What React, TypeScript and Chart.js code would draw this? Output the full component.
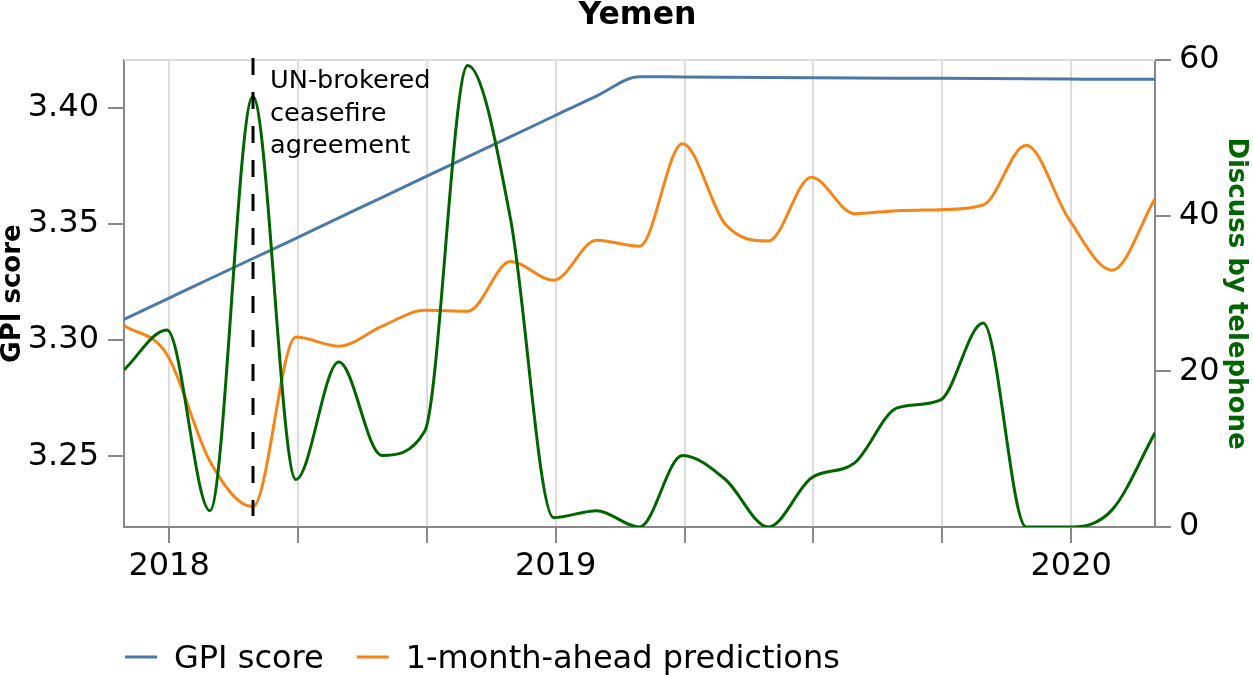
import React, { useEffect, useRef } from 'react';
import { Chart, registerables } from 'chart.js';

Chart.register(...registerables);

const FONT = "'DejaVu Sans', 'Liberation Sans', sans-serif";

// ---------- data ----------
const chartTitle = 'Yemen';
const months = [0, 1, 2, 3, 4, 5, 6, 7, 8, 9, 10, 11, 12, 13, 14, 15, 16, 17, 18, 19, 20, 21, 22, 23, 24];

const gpiScore = [
  3.3089, 3.3176, 3.3264, 3.3351, 3.3438, 3.3526, 3.3613, 3.3701, 3.3788, 3.3875,
  3.3963, 3.405, 3.4133, 3.4132, 3.4131, 3.413, 3.4129, 3.4128, 3.4127, 3.4126,
  3.4125, 3.4124, 3.4123, 3.4122, 3.4122,
];

const predictions = [
  3.3063, 3.2938, 3.2479, 3.2283, 3.3013, 3.2974, 3.3059, 3.3128, 3.3124, 3.3338,
  3.3257, 3.343, 3.3404, 3.3845, 3.3498, 3.3426, 3.3701, 3.3544, 3.3557, 3.3561,
  3.3581, 3.3838, 3.3519, 3.3301, 3.3608,
];

const telephone = [
  20.2, 25.3, 2.1, 55.3, 6.1, 21.2, 9.2, 12.3, 59.3, 39.5,
  1.2, 2.1, 0, 9.2, 6.1, 0, 6.3, 8.2, 15.3, 16.3,
  26.2, 0, 0, 2.2, 12.1,
];

const xTickMonths = [1, 4, 7, 10, 13, 16, 19, 22];
const xTickLabels = ['2018', '', '', '2019', '', '', '', '2020'];
const tickOffset = 0.05;
const gpiTicks = [3.25, 3.3, 3.35, 3.4];
const phoneTicks = [0, 20, 40, 60];
const gpiRange = [3.2196, 3.4205];
const phoneRange = [0, 60];

const ceasefireMonth = 3;
const ceasefireLabel = ['UN-brokered', 'ceasefire', 'agreement'];

const seriesNames = ['GPI score', '1-month-ahead predictions', 'Discuss by telephone'];
const seriesColors = ['#4c78a8', '#f58518', '#006400'];

const toPoints = (vals: number[]) => months.map((m, i) => ({ x: m, y: vals[i] }));

const overlayPlugin = {
  id: 'overlay',
  beforeDatasetsDraw(chart: any) {
    const { ctx, chartArea } = chart;
    ctx.save();
    ctx.strokeStyle = '#dddddd';
    ctx.lineWidth = 2;
    ctx.beginPath();
    ctx.moveTo(chartArea.left, chartArea.top);
    ctx.lineTo(chartArea.right, chartArea.top);
    ctx.stroke();
    ctx.restore();
  },
  afterDatasetsDraw(chart: any) {
    const { ctx, chartArea, scales } = chart;
    const x = Math.round(scales.x.getPixelForValue(ceasefireMonth));
    ctx.save();
    ctx.strokeStyle = '#000';
    ctx.lineWidth = 3;
    ctx.setLineDash([17, 17]);
    ctx.beginPath();
    ctx.moveTo(x, chartArea.top - 2);
    ctx.lineTo(x, chartArea.bottom - 11);
    ctx.stroke();
    ctx.setLineDash([]);
    ctx.fillStyle = '#000';
    ctx.font = `25.6px ${FONT}`;
    ctx.textAlign = 'left';
    ctx.textBaseline = 'alphabetic';
    ceasefireLabel.forEach((line, i) => ctx.fillText(line, x + 17, chartArea.top + 28 + i * 32.5));
    ctx.restore();
  },
  afterDraw(chart: any) {
    const { ctx, chartArea } = chart;
    ctx.save();
    ctx.fillStyle = '#000';
    ctx.font = `bold 31.5px ${FONT}`;
    ctx.textAlign = 'center';
    ctx.textBaseline = 'alphabetic';
    ctx.fillText(chartTitle, (chartArea.left + chartArea.right) / 2 - 2, 24);

    // legend
    ctx.font = `32px ${FONT}`;
    ctx.textAlign = 'left';
    let lx = chartArea.left + 1;
    const ly = 657;
    chart.data.datasets.forEach((ds: any) => {
      if (!ds.inLegend) return;
      ctx.strokeStyle = ds.borderColor;
      ctx.lineWidth = 3;
      ctx.beginPath();
      ctx.moveTo(lx, ly);
      ctx.lineTo(lx + 32, ly);
      ctx.stroke();
      ctx.fillStyle = '#000';
      ctx.fillText(ds.label, lx + 49, 668);
      lx += 49 + ctx.measureText(ds.label).width + 33;
    });
    ctx.restore();
  },
};

export default function App() {
  const ref = useRef<HTMLCanvasElement | null>(null);

  useEffect(() => {
    if (!ref.current) return;
    const tickFont = { family: FONT, size: 32 };
    const chart = new Chart(ref.current, {
      type: 'line',
      data: {
        datasets: [
          {
            label: seriesNames[0],
            data: toPoints(gpiScore),
            borderColor: seriesColors[0],
            yAxisID: 'y',
            order: 2,
            inLegend: true,
          } as any,
          {
            label: seriesNames[1],
            data: toPoints(predictions),
            borderColor: seriesColors[1],
            yAxisID: 'y',
            order: 1,
            inLegend: true,
          } as any,
          {
            label: seriesNames[2],
            data: toPoints(telephone),
            borderColor: seriesColors[2],
            yAxisID: 'y1',
            order: 0,
            inLegend: false,
          } as any,
        ].map((d: any) => ({
          ...d,
          borderWidth: 3,
          pointRadius: 0,
          fill: false,
          cubicInterpolationMode: 'monotone',
        })),
      },
      options: {
        animation: false,
        responsive: false,
        devicePixelRatio: 1,
        events: [],
        layout: { padding: { top: 60, left: 0, right: 0, bottom: 0 } },
        plugins: {
          legend: { display: false },
          title: { display: false },
          tooltip: { enabled: false },
        },
        scales: {
          x: {
            type: 'linear',
            min: months[0],
            max: months[months.length - 1],
            afterBuildTicks: (s: any) => {
              s.ticks = xTickMonths.map((v) => ({ value: v + tickOffset }));
            },
            afterFit: (s: any) => {
              s.height = 148;
            },
            ticks: {
              callback: (_v: any, i: number) => xTickLabels[i],
              font: tickFont,
              color: '#000',
              padding: 4,
              maxRotation: 0,
              autoSkip: false,
            },
            grid: {
              color: '#dddddd',
              lineWidth: 2,
              tickColor: '#888888',
              tickWidth: 2,
              tickLength: 16,
              drawTicks: true,
            },
            border: { color: '#888888', width: 2 },
          },
          y: {
            type: 'linear',
            position: 'left',
            min: gpiRange[0],
            max: gpiRange[1],
            afterBuildTicks: (s: any) => {
              s.ticks = gpiTicks.map((v) => ({ value: v }));
            },
            afterFit: (s: any) => {
              s.width = 124;
            },
            ticks: {
              callback: (v: any) => Number(v).toFixed(2),
              font: tickFont,
              color: '#000',
              padding: 9,
            },
            grid: {
              drawOnChartArea: false,
              color: '#888888',
              lineWidth: 2,
              tickLength: 16,
            },
            border: { color: '#888888', width: 2 },
            title: {
              display: true,
              text: 'GPI score',
              color: '#000',
              font: { family: FONT, size: 26, weight: 'bold', lineHeight: 1.0 },
              padding: 0,
            },
          },
          y1: {
            type: 'linear',
            position: 'right',
            min: phoneRange[0],
            max: phoneRange[1],
            afterBuildTicks: (s: any) => {
              s.ticks = phoneTicks.map((v) => ({ value: v }));
            },
            afterFit: (s: any) => {
              s.width = 98;
            },
            ticks: {
              callback: (v: any) => String(v),
              font: tickFont,
              color: '#000',
              padding: 8,
            },
            grid: {
              drawOnChartArea: false,
              color: '#888888',
              lineWidth: 2,
              tickLength: 16,
            },
            border: { color: '#888888', width: 2 },
            title: {
              display: true,
              text: 'Discuss by telephone',
              color: '#006400',
              font: { family: FONT, size: 26, weight: 'bold', lineHeight: 1.35 },
              padding: 0,
            },
          },
        },
      } as any,
      plugins: [overlayPlugin],
    });
    return () => chart.destroy();
  }, []);

  return (
    <div style={{ position: 'absolute', left: 0, top: 0, width: 1253, height: 675, background: '#fff' }}>
      <canvas ref={ref} width={1253} height={675} style={{ display: 'block', width: 1253, height: 675 }} />
    </div>
  );
}
